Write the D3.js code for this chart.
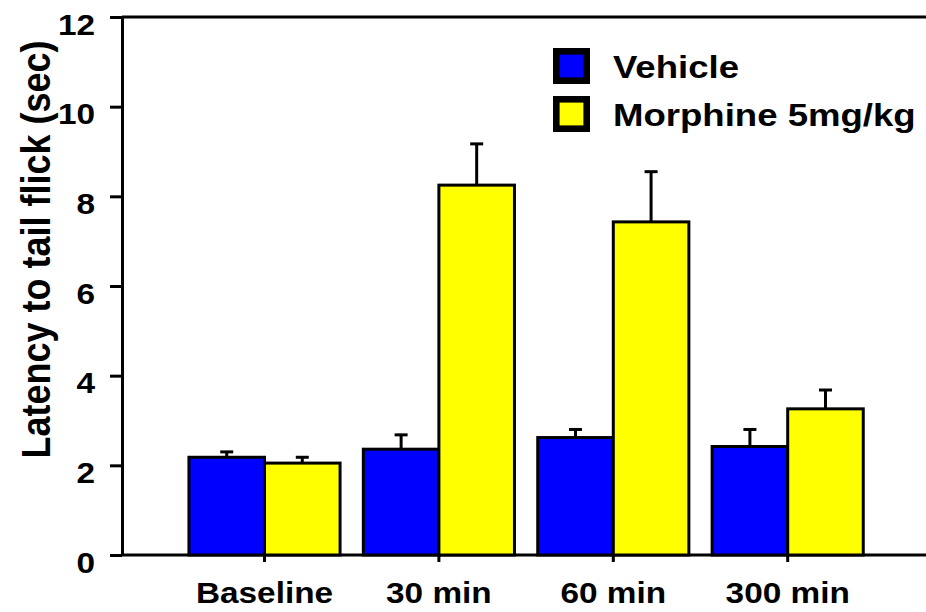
<!DOCTYPE html>
<html>
<head>
<meta charset="utf-8">
<script src="https://cdn.jsdelivr.net/npm/d3@7"></script>
<style>
	html, body { margin: 0; padding: 0; background: #fff; }
	svg { display: block; }
</style>
</head>
<body>
<svg class="mainsvg" width="926" height="612"></svg>
<script>
// data
var categories = ["Baseline", "30 min", "60 min", "300 min"];
var seriesNames = ["Vehicle", "Morphine 5mg/kg"];
var vehicleMean = [2.18, 2.36, 2.62, 2.42];
var vehicleSem = [0.12, 0.32, 0.18, 0.38];
var morphineMean = [2.05, 8.25, 7.43, 3.26];
var morphineSem = [0.13, 0.92, 1.12, 0.42];
var yTicks = [0, 2, 4, 6, 8, 10, 12];
var yTitle = "Latency to tail flick (sec)";

var colors = {"Vehicle": "#0000ff", "Morphine 5mg/kg": "#ffff00"};
var font = "'Liberation Sans', Arial, Helvetica, sans-serif";
var sx = 1.15; // text in the picture is a bit wider than tall

var _width = 926, _height = 612;
var svg = d3.select('.mainsvg');

var y = d3.scaleLinear().domain([0, 12]).range([555, 17]);
var x0 = d3.scaleBand().domain(categories).range([177.3, 874.9]).padding(0);
var x1 = d3.scaleBand().domain(seriesNames).range([0, x0.bandwidth()])
	.paddingInner(0).paddingOuter(0.154);

var rows = [];
categories.forEach(function (c, i) {
	rows.push({cat: c, name: seriesNames[0], v: vehicleMean[i], e: vehicleSem[i]});
	rows.push({cat: c, name: seriesNames[1], v: morphineMean[i], e: morphineSem[i]});
});

// frame lines: top border and x axis line
svg.append('line')
	.attr('x1', 122).attr('x2', _width)
	.attr('y1', y(12)).attr('y2', y(12))
	.attr('stroke', 'black').attr('stroke-width', 3);
svg.append('line')
	.attr('x1', 122).attr('x2', _width)
	.attr('y1', y(0)).attr('y2', y(0))
	.attr('stroke', 'black').attr('stroke-width', 3);

// error bars (upper only)
var err = svg.append('g');
err.selectAll('line.stem')
	.data(rows)
	.enter().append('line')
	.attr('x1', function (d) { return x0(d.cat) + x1(d.name) + x1.bandwidth() / 2; })
	.attr('x2', function (d) { return x0(d.cat) + x1(d.name) + x1.bandwidth() / 2; })
	.attr('y1', function (d) { return y(d.v); })
	.attr('y2', function (d) { return y(d.v + d.e); })
	.attr('stroke', 'black').attr('stroke-width', 3);
err.selectAll('line.cap')
	.data(rows)
	.enter().append('line')
	.attr('x1', function (d) { return x0(d.cat) + x1(d.name) + x1.bandwidth() / 2 - 6.5; })
	.attr('x2', function (d) { return x0(d.cat) + x1(d.name) + x1.bandwidth() / 2 + 6.5; })
	.attr('y1', function (d) { return y(d.v + d.e); })
	.attr('y2', function (d) { return y(d.v + d.e); })
	.attr('stroke', 'black').attr('stroke-width', 3);

// bars
svg.append('g')
	.selectAll('rect')
	.data(rows)
	.enter().append('rect')
	.attr('x', function (d) { return x0(d.cat) + x1(d.name); })
	.attr('y', function (d) { return y(d.v); })
	.attr('width', x1.bandwidth())
	.attr('height', function (d) { return y(0) - y(d.v); })
	.attr('fill', function (d) { return colors[d.name]; })
	.attr('stroke', 'black')
	.attr('stroke-width', 3);

// y axis
var yAxis = svg.append('g')
	.attr('transform', 'translate(122,0)')
	.call(d3.axisLeft(y).tickValues(yTicks).tickSize(12).tickSizeOuter(0).tickFormat(d3.format('d')));
yAxis.select('.domain').attr('stroke-width', 3);
yAxis.selectAll('.tick line').attr('stroke-width', 3);
yAxis.selectAll('.tick text')
	.attr('x', null).attr('dy', null)
	.attr('transform', 'translate(-27,17) scale(' + sx + ',1)')
	.attr('fill', 'black')
	.attr('font-family', font)
	.attr('font-size', 29)
	.attr('font-weight', 700)
	.style('text-anchor', 'end');

// x axis
var xAxis = svg.append('g')
	.attr('transform', 'translate(0,' + y(0) + ')')
	.call(d3.axisBottom(x0).tickSize(7).tickSizeOuter(0));
xAxis.select('.domain').remove();
xAxis.selectAll('.tick line').attr('stroke-width', 3);
xAxis.selectAll('.tick text')
	.attr('y', null).attr('dy', null)
	.attr('transform', 'translate(0,47.5) scale(' + sx + ',1)')
	.attr('fill', 'black')
	.attr('font-family', font)
	.attr('font-size', 29)
	.attr('font-weight', 700)
	.style('text-anchor', 'middle');

// y title
svg.append('text')
	.attr('transform', 'translate(50,249.5) scale(' + sx + ',1) rotate(-90)')
	.attr('fill', 'black')
	.attr('font-family', font)
	.attr('font-size', 36)
	.attr('font-weight', 700)
	.style('text-anchor', 'middle')
	.text(yTitle);

// legend
var legend = svg.append('g')
	.selectAll('g')
	.data(seriesNames)
	.enter().append('g')
	.attr('transform', function (d, i) { return 'translate(0,' + (i * 48) + ')'; });
legend.append('rect')
	.attr('x', 556.3).attr('y', 51.3)
	.attr('width', 30.4).attr('height', 29.4)
	.attr('fill', function (d) { return colors[d]; })
	.attr('stroke', 'black')
	.attr('stroke-width', 6.6);
legend.append('text')
	.attr('transform', 'translate(613,78.3) scale(1.18,1)')
	.attr('fill', 'black')
	.attr('font-family', font)
	.attr('font-size', 31)
	.attr('font-weight', 700)
	.style('text-anchor', 'start')
	.text(function (d) { return d; });
</script>
</body>
</html>
